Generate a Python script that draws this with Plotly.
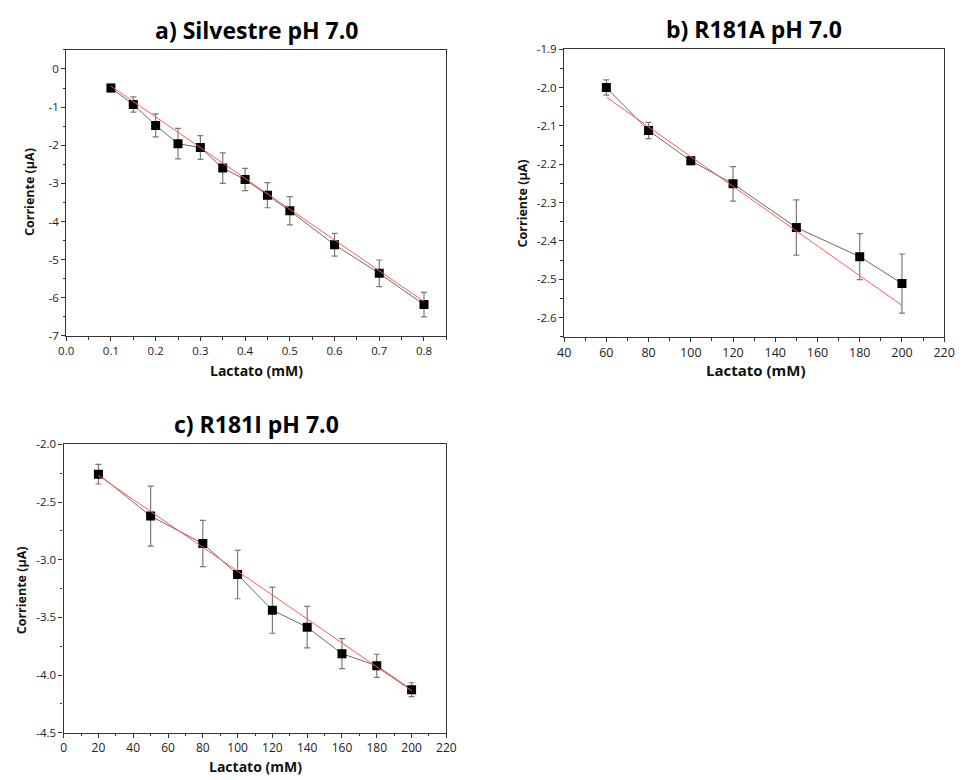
import plotly.graph_objects as go

# ---- Data ----
# a) Silvestre pH 7.0
a_x = [0.1, 0.15, 0.2, 0.25, 0.3, 0.35, 0.4, 0.45, 0.5, 0.6, 0.7, 0.8]
a_y = [-0.50, -0.93, -1.48, -1.96, -2.06, -2.60, -2.90, -3.31, -3.72, -4.61, -5.36, -6.18]
a_err = [0.10, 0.20, 0.30, 0.40, 0.31, 0.40, 0.29, 0.33, 0.37, 0.30, 0.35, 0.32]
a_fit_x = [0.1, 0.8]
a_fit_y = [-0.45, -6.10]

# b) R181A pH 7.0
b_x = [60, 80, 100, 120, 150, 180, 200]
b_y = [-2.000, -2.112, -2.191, -2.251, -2.365, -2.441, -2.511]
b_err = [0.020, 0.021, 0.010, 0.045, 0.072, 0.060, 0.077]
b_fit_x = [60, 200]
b_fit_y = [-2.025, -2.568]

# c) R181I pH 7.0
c_x = [20, 50, 80, 100, 120, 140, 160, 180, 200]
c_y = [-2.258, -2.621, -2.859, -3.128, -3.437, -3.584, -3.814, -3.919, -4.126]
c_err = [0.085, 0.26, 0.20, 0.21, 0.20, 0.18, 0.13, 0.10, 0.06]
c_fit_x = [20, 200]
c_fit_y = [-2.27, -4.135]

# tick labels (hyphen minus as in the reference)
a_yticks = [0, -1, -2, -3, -4, -5, -6, -7]
a_yticklabels = ["0", "-1", "-2", "-3", "-4", "-5", "-6", "-7"]
a_xticks = [0.0, 0.1, 0.2, 0.3, 0.4, 0.5, 0.6, 0.7, 0.8]
a_xticklabels = ["0.0", "0.1", "0.2", "0.3", "0.4", "0.5", "0.6", "0.7", "0.8"]
b_yticks = [-1.9, -2.0, -2.1, -2.2, -2.3, -2.4, -2.5, -2.6]
b_yticklabels = ["-1.9", "-2.0", "-2.1", "-2.2", "-2.3", "-2.4", "-2.5", "-2.6"]
b_xticks = [40, 60, 80, 100, 120, 140, 160, 180, 200, 220]
b_xticklabels = ["40", "60", "80", "100", "120", "140", "160", "180", "200", "220"]
c_yticks = [-2.0, -2.5, -3.0, -3.5, -4.0, -4.5]
c_yticklabels = ["-2.0", "-2.5", "-3.0", "-3.5", "-4.0", "-4.5"]
c_xticks = [0, 20, 40, 60, 80, 100, 120, 140, 160, 180, 200, 220]
c_xticklabels = ["0", "20", "40", "60", "80", "100", "120", "140", "160", "180", "200", "220"]

titles = ["a) Silvestre pH 7.0", "b) R181A pH 7.0", "c) R181I pH 7.0"]
x_label = "Lactato (mM)"
y_label = "Corriente (µA)"

W, H = 964, 780
FONT = "Open Sans"
AX = "#333333"

fig = go.Figure()

panels = [
    (a_x, a_y, a_err, a_fit_x, a_fit_y, "x", "y"),
    (b_x, b_y, b_err, b_fit_x, b_fit_y, "x2", "y2"),
    (c_x, c_y, c_err, c_fit_x, c_fit_y, "x3", "y3"),
]
for px, py, pe, fx, fy, xa, ya in panels:
    fig.add_trace(go.Scatter(
        x=px, y=py, mode="lines+markers", xaxis=xa, yaxis=ya,
        line=dict(color="#6a6a6a", width=1),
        marker=dict(symbol="square", size=9, color="black"),
        error_y=dict(type="data", array=pe, visible=True, color="#7a7a7a",
                     thickness=1.2, width=3),
        showlegend=False, hoverinfo="skip"))
    fig.add_trace(go.Scatter(
        x=fx, y=fy, mode="lines", xaxis=xa, yaxis=ya,
        line=dict(color="#ff5a5a", width=1),
        showlegend=False, hoverinfo="skip"))


def px2x(p):
    return p / W


def px2y(p):
    return 1 - p / H


def axis(domain, rng, tv, tt, minor_dtick, anchor, tfs=11):
    return dict(
        domain=domain, range=rng, tickmode="array", tickvals=tv, ticktext=tt,
        anchor=anchor,
        showgrid=False, zeroline=False, showline=True, linecolor=AX,
        linewidth=1.3, mirror=True, ticks="outside", ticklen=4,
        tickcolor=AX, tickwidth=1.2,
        tickfont=dict(family=FONT, size=tfs, color="#222222"),
        minor=dict(ticks="outside", ticklen=2.5, dtick=minor_dtick, tick0=0,
                   tickcolor=AX, tickwidth=1, showgrid=False),
    )


# panel boxes (pixels)
a_box = (59.3, 446.7, 42.7, 334.3)
b_box = (566.7, 954.0, 42.0, 335.3)
c_box = (56.7, 446.7, 445.0, 739.0)


def dom(box):
    l, r, t, b = box
    return [px2x(l), px2x(r)], [px2y(b), px2y(t)]


ax_d, ay_d = dom(a_box)
bx_d, by_d = dom(b_box)
cx_d, cy_d = dom(c_box)

fig.update_layout(
    width=W, height=H,
    margin=dict(l=0, r=0, t=0, b=0),
    paper_bgcolor="white", plot_bgcolor="white",
    font=dict(family=FONT, color="#222222"),
    xaxis=axis(ax_d, [0, 0.85], a_xticks, a_xticklabels, 0.05, "y", 11.5),
    yaxis=axis(ay_d, [-7, 0.5], a_yticks, a_yticklabels, 0.5, "x", 11.5),
    xaxis2=axis(bx_d, [40, 220], b_xticks, b_xticklabels, 10, "y2", 12.5),
    yaxis2=axis(by_d, [-2.65, -1.9], b_yticks, b_yticklabels, 0.05, "x2", 11.5),
    xaxis3=axis(cx_d, [0, 220], c_xticks, c_xticklabels, 10, "y3", 12),
    yaxis3=axis(cy_d, [-4.5, -2.0], c_yticks, c_yticklabels, 0.25, "x3", 11.5),
)

ann = []
# titles
for txt, cx, cy in [(titles[0], 253, 22), (titles[1], 760, 21), (titles[2], 253, 424)]:
    ann.append(dict(text="<b>%s</b>" % txt, x=px2x(cx), y=px2y(cy), xref="paper", yref="paper",
                    showarrow=False, xanchor="center", yanchor="middle",
                    font=dict(family=FONT, size=23, color="black")))
# x labels
for cx, cy, fs in [(253, 370, 14), (762, 369, 15), (252, 773, 14)]:
    ann.append(dict(text="<b>%s</b>" % x_label, x=px2x(cx), y=px2y(cy), xref="paper", yref="paper",
                    showarrow=False, xanchor="center", yanchor="middle",
                    font=dict(family=FONT, size=fs, color="#111111")))
# y labels
for cx, cy, fs in [(22, 188, 12.5), (524, 199, 12.5), (14, 594, 12.5)]:
    ann.append(dict(text="<b>%s</b>" % y_label, x=px2x(cx), y=px2y(cy), xref="paper", yref="paper",
                    showarrow=False, xanchor="center", yanchor="middle", textangle=-90,
                    font=dict(family=FONT, size=fs, color="#111111")))
fig.update_layout(annotations=ann)

fig.write_html("out.html")
